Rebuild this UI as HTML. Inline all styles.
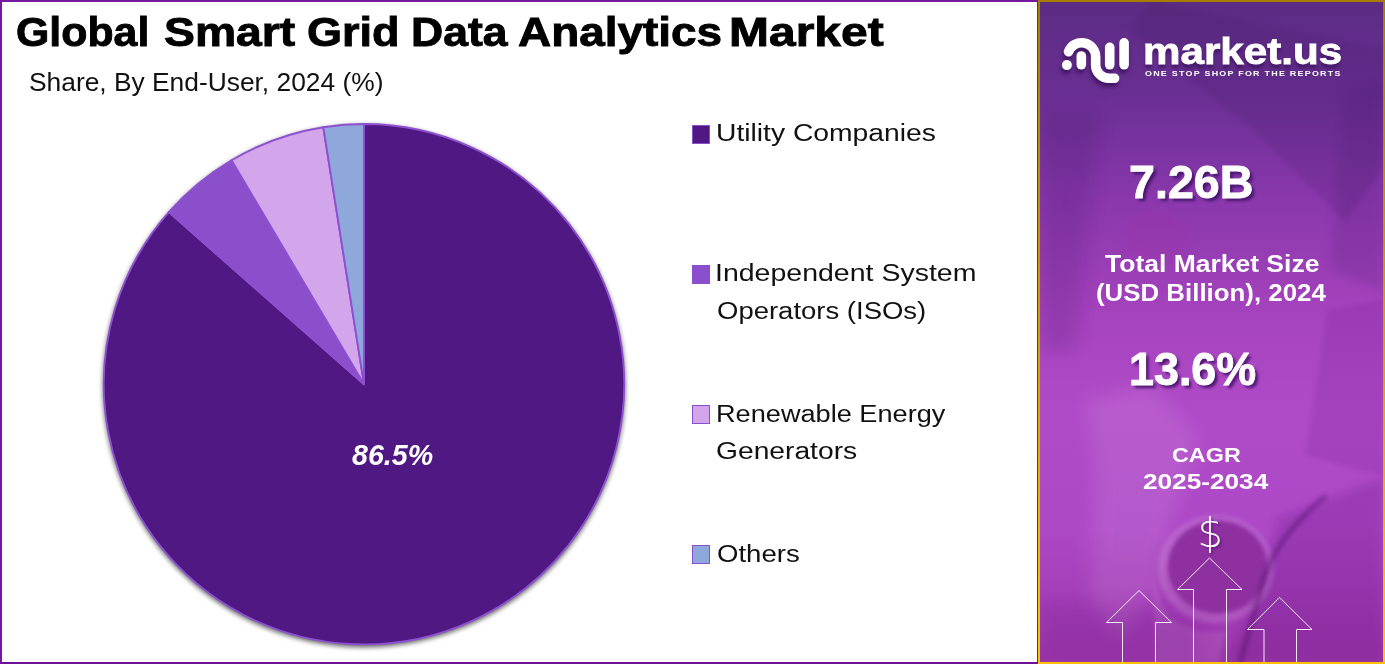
<!DOCTYPE html>
<html lang="en">
<head>
<meta charset="utf-8">
<title>Global Smart Grid Data Analytics Market</title>
<style>
  html, body { margin: 0; padding: 0; }
  body {
    width: 1385px; height: 667px; overflow: hidden; position: relative;
    background: #ffffff;
    font-family: "Liberation Sans", sans-serif;
  }
  .abs { position: absolute; white-space: nowrap; line-height: 1; transform-origin: 0 0; }

  /* left chart card */
  #card {
    position: absolute; left: 0; top: 0; width: 1035px; height: 660px;
    border: 2px solid #741aa0; border-bottom-color: #6c1098; background: #fff;
  }
  #title { position: absolute; left: 0; top: 0; }
  .tw { top: 11.39px; font-size: 41.43px; font-weight: bold; color: #000; -webkit-text-stroke: 0.9px #000; }
  #subtitle { left: 28.85px; top: 70.18px; font-size: 25.07px; color: #111; transform: scaleX(1.0513); }

  .leg { font-size: 23.77px; color: #111; }
  .sw { position: absolute; left: 692px; width: 18px; height: 19px; border: 1.5px solid #8b4fcb; box-sizing: border-box; }

  /* right panel */
  #panel {
    position: absolute; left: 1038px; top: 0; width: 347px; height: 664px; overflow: hidden;
    background: linear-gradient(180deg, #a87c00 0%, #ffc107 100%);
  }
  #pin {
    position: absolute; left: 2px; top: 2px; width: 343px; height: 660px; overflow: hidden;
    background: linear-gradient(180deg, #5b2c83 0%, #6a2f93 14%, #8a38ac 30%, #a643be 48%, #b04bc8 62%, #ad48c6 80%, #a33db6 92%, #9c36aa 100%);
  }
  .w { color: #fff; font-weight: bold; }
  .sh { text-shadow: 3px 3px 3px rgba(66, 18, 104, .9); -webkit-text-stroke: 0.9px #fff; }
  .sh2 { text-shadow: 0 4px 3px rgba(58, 16, 92, .75); }
</style>
</head>
<body>

<div id="card"></div>

<div id="title">
  <span class="abs tw" style="left:15.59px;transform:scaleX(1.0343)">Global</span>
  <span class="abs tw" style="left:164.47px;transform:scaleX(1.1178)">Smart</span>
  <span class="abs tw" style="left:307.10px;transform:scaleX(1.0866)">Grid</span>
  <span class="abs tw" style="left:410.83px;transform:scaleX(1.0752)">Data</span>
  <span class="abs tw" style="left:518.08px;transform:scaleX(1.1084)">Analytics</span>
  <span class="abs tw" style="left:729.42px;transform:scaleX(1.1585)">Market</span>
</div>
<div id="subtitle" class="abs">Share, By End-User, 2024 (%)</div>

<!-- pie chart -->
<svg id="pie" class="abs" style="left:0;top:0" width="1038" height="664" viewBox="0 0 1038 664">
  <defs>
    <filter id="ps" x="-10%" y="-10%" width="120%" height="120%">
      <feGaussianBlur stdDeviation="2.5"/>
    </filter>
  </defs>
  <circle cx="364" cy="386.2" r="261" fill="#000" opacity=".62" filter="url(#ps)"/>
  <g stroke="#8d50d0" stroke-width="1.9" stroke-linejoin="round">
    <path id="s1" fill="#4f1882" d="M364.0 384.2L364.00 124.00A260.2 260.2 0 1 1 168.82 212.13Z"/>
    <path id="s2" fill="#8b4fcb" d="M364.0 384.2L168.82 212.13A260.2 260.2 0 0 1 231.55 160.23Z"/>
    <path id="s3" fill="#d3a6ec" d="M364.0 384.2L231.55 160.23A260.2 260.2 0 0 1 323.30 127.20Z"/>
    <path id="s4" fill="#8fa8dc" d="M364.0 384.2L323.30 127.20A260.2 260.2 0 0 1 364.00 124.00Z"/>
  </g>
</svg>

<div id="pct" class="abs" style="left:351.5px;top:439.7px;font-size:29.7px;font-weight:bold;font-style:italic;color:#fff;transform:scaleX(0.964)">86.5%</div>

<!-- legend -->
<div class="sw" style="top:125px;background:#4f1882"></div>
<div class="abs leg" style="left:716.02px;top:121.16px;transform:scaleX(1.1893)">Utility Companies</div>
<div class="sw" style="top:265px;background:#8b4fcb"></div>
<div class="abs leg" style="left:715.23px;top:261.26px;transform:scaleX(1.1992)">Independent System</div>
<div class="abs leg" style="left:716.70px;top:298.66px;transform:scaleX(1.1565)">Operators (ISOs)</div>
<div class="sw" style="top:405px;background:#d3a6ec"></div>
<div class="abs leg" style="left:715.93px;top:401.96px;transform:scaleX(1.1420)">Renewable Energy</div>
<div class="abs leg" style="left:716.39px;top:439.46px;transform:scaleX(1.1872)">Generators</div>
<div class="sw" style="top:545px;background:#8fa8dc"></div>
<div class="abs leg" style="left:716.70px;top:541.86px;transform:scaleX(1.1599)">Others</div>

<!-- right panel -->
<div id="panel"><div id="pin">
  <svg id="bg" class="abs" style="left:0;top:0" width="343" height="660" viewBox="1040 2 343 660">
    <defs>
      <filter id="b2" x="-20%" y="-20%" width="140%" height="140%"><feGaussianBlur stdDeviation="2"/></filter>
      <filter id="b5" x="-20%" y="-20%" width="140%" height="140%"><feGaussianBlur stdDeviation="5"/></filter>
      <filter id="b9" x="-30%" y="-30%" width="160%" height="160%"><feGaussianBlur stdDeviation="9"/></filter>
    </defs>
    <!-- faint diagonal bands near the top (laptop / papers) -->
    <path d="M1151 2L1383 48V165L1346 222L1251 128L1130 30Z" fill="#3d1560" opacity=".15" filter="url(#b2)"/>
    <path d="M1040 110H1100L1075 350H1040Z" fill="#35095c" opacity=".16" filter="url(#b9)"/>
    <path d="M1345 90L1383 80V290L1330 270Z" fill="#3d1560" opacity=".14" filter="url(#b5)"/>
    <ellipse cx="1155" cy="236" rx="32" ry="27" fill="#a22a9a" opacity=".16" filter="url(#b5)"/>
    <!-- book on the right -->
    <path d="M1328 310L1383 300V475L1361 471L1305 455Z" fill="#5a1080" opacity=".13" filter="url(#b2)"/>
    <!-- hand -->
    <path d="M1086 400L1150 385L1200 440L1172 520L1160 580L1120 640L1090 600L1095 470Z" fill="#fff" opacity=".09" filter="url(#b9)"/>
    <!-- dark lower-right (headphones) -->
    <path d="M1278 518L1383 478V662H1226L1262 585Z" fill="#5a0878" opacity=".22" filter="url(#b5)"/>
    <!-- lower-left shade -->
    <path d="M1040 600L1200 610V662H1040Z" fill="#5a0878" opacity=".14" filter="url(#b9)"/>
    <!-- cup -->
    <path d="M1152 575L1168 618L1200 632H1226L1218 664H1156Z" fill="#fff" opacity=".08" filter="url(#b2)"/>
    <ellipse cx="1216" cy="569" rx="58" ry="54" fill="#fff" opacity=".13" filter="url(#b2)"/>
    <ellipse cx="1217.7" cy="567" rx="50" ry="46.5" fill="#8d2d9e" opacity=".95" filter="url(#b2)"/>
        <!-- cable -->
    <path d="M1326 496C1296 520 1272 548 1262 585S1246 640 1240 664" fill="none" stroke="#3a0a58" stroke-opacity=".35" stroke-width="5" filter="url(#b2)"/>
  </svg>
</div></div>

<svg id="logo" class="abs" style="left:1055px;top:30px;overflow:visible;filter:drop-shadow(-1px 4px 2px rgba(58,16,92,.85))" width="80" height="60" viewBox="0 0 80 60">
  <g fill="none" stroke="#fff" stroke-width="9.6" stroke-linecap="round" stroke-linejoin="round">
    <path d="M13.54 21.8A14 14 0 0 1 40.65 26.7V35A13.35 13.35 0 0 0 54 48.3H59.6"/>
    <path d="M26.3 26V34.8"/>
    <path d="M54.7 17.4V34.8"/>
    <path d="M69.1 12.9V34.8"/>
  </g>
  <circle cx="11.9" cy="35.1" r="5" fill="#fff"/>
</svg>
<div id="brand" class="abs w sh2" style="left:1142.57px;top:34.20px;font-size:36.48px;transform:scaleX(1.1554);-webkit-text-stroke:0.8px #fff">market.us</div>
<div id="tag" class="abs w" style="left:1144.67px;top:69.9px;font-size:7.97px;letter-spacing:1.107px;transform:scaleX(1.12)">ONE STOP SHOP FOR THE REPORTS</div>

<div id="n1" class="abs w sh" style="left:1128.93px;top:159.10px;font-size:46.23px;transform:scaleX(1.0086)">7.26B</div>
<div id="t1" class="abs w" style="left:1105.34px;top:251.57px;font-size:24px;transform:scaleX(1.1034)">Total Market Size</div>
<div id="t2" class="abs w" style="left:1095.67px;top:281.40px;font-size:24.2px;transform:scaleX(1.0686)">(USD Billion), 2024</div>
<div id="n2" class="abs w sh" style="left:1128.61px;top:346.42px;font-size:46.81px;transform:scaleX(0.9587)">13.6%</div>
<div id="t3" class="abs w" style="left:1172.07px;top:444.05px;font-size:21.01px;transform:scaleX(1.1123)">CAGR</div>
<div id="t4" class="abs w" style="left:1142.61px;top:471.99px;font-size:21.45px;transform:scaleX(1.2214)">2025-2034</div>
<div id="dol" class="abs" style="left:1197.4px;top:513.1px;font-size:40px;font-weight:200;color:#fff;font-family:'DejaVu Sans Light','DejaVu Sans','Liberation Sans',sans-serif;text-shadow:2px 2px 2px rgba(70,20,110,.55)">$</div>

<svg id="arrows" class="abs" style="left:1038px;top:0" width="347" height="664" viewBox="1038 0 347 664" fill="none" stroke="#fff" stroke-width="1" stroke-opacity=".9">
  <path d="M1193.5 662V589.5H1177.5L1209.5 558L1242 589.5H1226.5V662"/>
  <path d="M1122.5 662V622.5H1106.5L1139 590.5L1171.5 622.5H1155.5V662"/>
  <path d="M1264 662V629.5H1247.5L1279.5 597.5L1312 629.5H1296.5V662"/>
</svg>

</body>
</html>
